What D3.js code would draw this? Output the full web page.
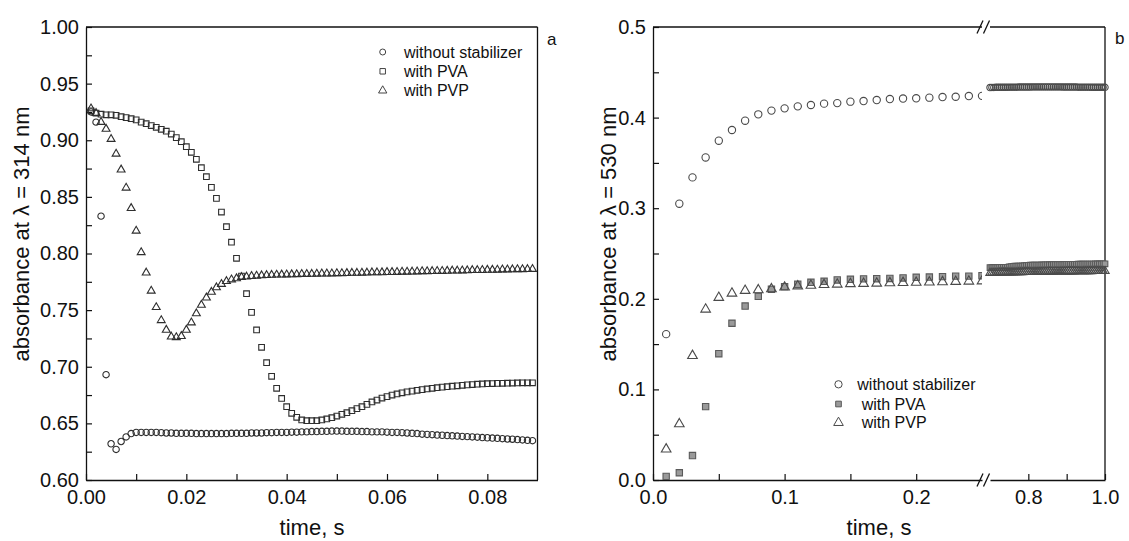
<!DOCTYPE html>
<html><head><meta charset="utf-8">
<script src="https://cdn.jsdelivr.net/npm/d3@7/dist/d3.min.js"></script>
<style>html,body{margin:0;padding:0;background:#fff;}svg{display:block;}</style>
</head><body>
<svg id="chart" width="1129" height="541"></svg>
<script>
// ---------- Panel a (λ = 314 nm) ----------
const timeA = [0.001,0.002,0.003,0.004,0.005,0.006,0.007,0.008,0.009,0.010,
0.011,0.012,0.013,0.014,0.015,0.016,0.017,0.018,0.019,0.020,
0.021,0.022,0.023,0.024,0.025,0.026,0.027,0.028,0.029,0.030,
0.031,0.032,0.033,0.034,0.035,0.036,0.037,0.038,0.039,0.040,
0.041,0.042,0.043,0.044,0.045,0.046,0.047,0.048,0.049,0.050,
0.051,0.052,0.053,0.054,0.055,0.056,0.057,0.058,0.059,0.060,
0.061,0.062,0.063,0.064,0.065,0.066,0.067,0.068,0.069,0.070,
0.071,0.072,0.073,0.074,0.075,0.076,0.077,0.078,0.079,0.080,
0.081,0.082,0.083,0.084,0.085,0.086,0.087,0.088,0.089];
const aWithout = [0.925,0.916,0.833,0.693,0.632,0.627,0.634,0.638,0.641,0.642,
0.642,0.642,0.642,0.642,0.6418,0.6415,0.6415,0.6412,0.6412,0.6412,
0.6412,0.641,0.641,0.641,0.641,0.641,0.641,0.641,0.6412,0.6412,
0.6412,0.6412,0.6415,0.6415,0.6415,0.6418,0.6418,0.642,0.642,0.642,
0.6422,0.6422,0.6425,0.6425,0.6428,0.6428,0.643,0.643,0.6432,0.6432,
0.6432,0.643,0.643,0.643,0.6428,0.6428,0.6425,0.6425,0.6425,0.6422,
0.642,0.642,0.6418,0.6415,0.6412,0.641,0.6405,0.6402,0.640,0.6397,
0.6395,0.6392,0.639,0.6388,0.6385,0.6383,0.638,0.6378,0.6375,0.6373,
0.637,0.6368,0.6365,0.6362,0.636,0.6357,0.6354,0.635,0.6347];
const aPVA = [0.926,0.924,0.923,0.9225,0.9225,0.922,0.9208,0.920,0.919,0.918,
0.916,0.9146,0.913,0.9114,0.9097,0.908,0.9055,0.9023,0.8987,0.8943,
0.8894,0.8832,0.8758,0.8678,0.8584,0.8487,0.8366,0.8237,0.810,0.7958,
0.780,0.7645,0.748,0.7325,0.7172,0.7036,0.6916,0.681,0.672,0.6647,
0.6589,0.6554,0.653,0.6524,0.6524,0.6524,0.653,0.6539,0.655,0.6565,
0.658,0.6594,0.6612,0.663,0.6647,0.6668,0.6689,0.6706,0.6724,0.6736,
0.675,0.676,0.677,0.6778,0.6785,0.6792,0.6798,0.6804,0.681,0.6815,
0.682,0.6824,0.6828,0.6832,0.6836,0.684,0.6843,0.6846,0.6848,0.685,
0.6852,0.6853,0.6854,0.6855,0.6856,0.6857,0.6858,0.6858,0.6858];
const aPVP = [0.928,0.924,0.916,0.910,0.901,0.888,0.874,0.858,0.840,0.820,
0.801,0.783,0.767,0.7525,0.741,0.7325,0.7265,0.726,0.727,0.7325,
0.739,0.747,0.7545,0.761,0.766,0.770,0.773,0.7755,0.777,0.778,
0.779,0.7795,0.780,0.7803,0.7806,0.7808,0.781,0.7812,0.7813,0.7814,
0.7815,0.7816,0.7818,0.7818,0.7819,0.782,0.7822,0.7822,0.7823,0.7825,
0.7825,0.7826,0.7828,0.7828,0.7829,0.783,0.7832,0.7832,0.7833,0.7835,
0.7835,0.7836,0.7838,0.7838,0.7839,0.784,0.7842,0.7842,0.7843,0.7845,
0.7845,0.7846,0.7848,0.7848,0.7849,0.785,0.7852,0.7852,0.7853,0.7855,
0.7855,0.7856,0.7858,0.7858,0.7859,0.786,0.786,0.7861,0.7862];
const aXMajor = [0, 0.02, 0.04, 0.06, 0.08];
const aXMinor = [0.01, 0.03, 0.05, 0.07];
const aYMajor = [0.60,0.65,0.70,0.75,0.80,0.85,0.90,0.95,1.00];
const aYMinor = [0.625,0.675,0.725,0.775,0.825,0.875,0.925,0.975];

// ---------- Panel b (λ = 530 nm) ----------
const timeB1 = [0.01,0.02,0.03,0.04,0.05,0.06,0.07,0.08,0.09,0.10,
0.11,0.12,0.13,0.14,0.15,0.16,0.17,0.18,0.19,0.20,0.21,0.22,0.23,0.24,0.25];
const bWithout1 = [0.161,0.305,0.334,0.356,0.3745,0.3863,0.3966,0.4036,0.4077,0.4102,
0.4124,0.4139,0.4154,0.416,0.4176,0.4183,0.4194,0.4205,0.421,0.4213,0.422,0.4227,0.423,0.4238,0.424];
const bPVA1 = [0.004,0.008,0.027,0.081,0.1394,0.173,0.192,0.2028,0.2105,0.2134,
0.216,0.2182,0.2193,0.2208,0.2215,0.222,0.2222,0.2225,0.223,0.2237,0.224,0.2245,0.225,0.225,0.2255];
const bPVP1 = [0.034,0.0618,0.1372,0.1884,0.2013,0.206,0.209,0.2097,0.2108,0.2127,
0.214,0.2147,0.2155,0.216,0.2165,0.2168,0.217,0.2175,0.2178,0.218,0.2183,0.2186,0.219,0.2193,0.2195];
const timeB2 = [0.700,0.705,0.710,0.715,0.720,0.725,0.730,0.735,0.740,0.745,
0.750,0.755,0.760,0.765,0.770,0.775,0.780,0.785,0.790,0.795,
0.800,0.805,0.810,0.815,0.820,0.825,0.830,0.835,0.840,0.845,
0.850,0.855,0.860,0.865,0.870,0.875,0.880,0.885,0.890,0.895,
0.900,0.905,0.910,0.915,0.920,0.925,0.930,0.935,0.940,0.945,
0.950,0.955,0.960,0.965,0.970,0.975,0.980,0.985,0.990,0.995,1.000];
const bWithout2 = [0.4332,0.4333,0.4333,0.4334,0.4334,0.4334,0.4335,0.4335,0.4335,0.4335,
0.4336,0.4336,0.4336,0.4336,0.4336,0.4337,0.4337,0.4337,0.4337,0.4337,
0.4337,0.4337,0.4338,0.4338,0.4338,0.4338,0.4338,0.4338,0.4338,0.4338,
0.4338,0.4338,0.4338,0.4338,0.4338,0.4338,0.4338,0.4338,0.4337,0.4337,
0.4337,0.4337,0.4337,0.4337,0.4337,0.4337,0.4336,0.4336,0.4336,0.4336,
0.4336,0.4336,0.4336,0.4335,0.4335,0.4335,0.4335,0.4335,0.4335,0.4334,0.4334];
const bPVA2 = [0.2345,0.2345,0.2346,0.2346,0.2346,0.2347,0.2347,0.2347,0.2348,0.2348,
0.2352,0.2356,0.2358,0.236,0.236,0.2361,0.2361,0.2362,0.2365,0.2368,
0.237,0.2371,0.2371,0.2372,0.2372,0.2373,0.2373,0.2374,0.2374,0.2375,
0.2375,0.2376,0.2376,0.2377,0.2377,0.2378,0.2378,0.2378,0.2379,0.2379,
0.238,0.238,0.238,0.2381,0.2381,0.2381,0.2382,0.2382,0.2382,0.2383,
0.2383,0.2383,0.2384,0.2384,0.2384,0.2385,0.2385,0.2385,0.2385,0.2386,0.2386];
const bPVP2 = [0.2285,0.2286,0.2286,0.2287,0.2287,0.2288,0.2288,0.2289,0.2289,0.229,
0.229,0.2291,0.2291,0.2292,0.2292,0.2293,0.2293,0.2293,0.2294,0.2294,
0.2295,0.2295,0.2295,0.2296,0.2296,0.2297,0.2297,0.2297,0.2298,0.2298,
0.2298,0.2299,0.2299,0.2299,0.23,0.23,0.23,0.2301,0.2301,0.2301,
0.2301,0.2302,0.2302,0.2302,0.2302,0.2303,0.2303,0.2303,0.2303,0.2304,
0.2304,0.2304,0.2304,0.2304,0.2305,0.2305,0.2305,0.2305,0.2305,0.2306,0.2306];
const bX1Major = [0, 0.1, 0.2];
const bX1Minor = [0.05, 0.15];
const bX2Major = [0.8, 1.0];
const bX2Minor = [0.9];
const bYMajor = [0,0.1,0.2,0.3,0.4,0.5];
const bYMinor = [0.05,0.15,0.25,0.35,0.45];

const seriesNames = ["without stabilizer", "with PVA", "with PVP"];

// ---------- drawing ----------
const FONT = "'Liberation Sans', Arial, Helvetica, sans-serif";
const svg = d3.select("#chart");
svg.append("rect").attr("width",1129).attr("height",541).attr("fill","#fff");

const TOP = 27, BOT = 480;

function styleAxis(g, size) {
  g.attr("font-family", FONT).attr("font-size", size);
  g.selectAll(".domain").attr("stroke","#111").attr("stroke-width",1.3);
  g.selectAll(".tick line").attr("stroke","#111").attr("stroke-width",1.2);
  g.selectAll(".tick text").attr("fill","#111");
}
function bottomAxis(scale, major, minor, fmt) {
  const g = svg.append("g").attr("transform", `translate(0,${BOT})`)
    .call(d3.axisBottom(scale).tickValues(major).tickFormat(fmt).tickSizeInner(-6).tickSizeOuter(0).tickPadding(10));
  styleAxis(g, 20);
  const m = svg.append("g").attr("transform", `translate(0,${BOT})`)
    .call(d3.axisBottom(scale).tickValues(minor).tickFormat("").tickSizeInner(-6).tickSizeOuter(0));
  m.select(".domain").remove();
  styleAxis(m, 20);
}
function leftAxis(x0, scale, major, minor, fmt) {
  const g = svg.append("g").attr("transform", `translate(${x0},0)`)
    .call(d3.axisLeft(scale).tickValues(major).tickFormat(fmt).tickSizeInner(-6).tickSizeOuter(0).tickPadding(7));
  styleAxis(g, 20);
  const m = svg.append("g").attr("transform", `translate(${x0},0)`)
    .call(d3.axisLeft(scale).tickValues(minor).tickFormat("").tickSizeInner(-6).tickSizeOuter(0));
  m.select(".domain").remove();
  styleAxis(m, 20);
}
function hline(x1, x2, y) {
  svg.append("line").attr("x1",x1).attr("x2",x2).attr("y1",y).attr("y2",y)
    .attr("stroke","#111").attr("stroke-width",1.3);
}
function vline(x, y1, y2) {
  svg.append("line").attr("x1",x).attr("x2",x).attr("y1",y1).attr("y2",y2)
    .attr("stroke","#111").attr("stroke-width",1.3);
}
function markers(g, xs, ys, xScale, yScale, type, size, fill, stroke) {
  const sym = d3.symbol().type(type).size(size);
  g.selectAll(null).data(xs.map((t,i)=>[t, ys[i]])).join("path")
    .attr("d", sym)
    .attr("transform", d => `translate(${xScale(d[0])},${yScale(d[1])})`)
    .attr("fill", fill).attr("stroke", stroke).attr("stroke-width", 1.1);
}

// ----- Panel a -----
const xA = d3.scaleLinear().domain([0, 0.09]).range([86, 537.5]);
const yA = d3.scaleLinear().domain([0.6, 1.0]).range([BOT, TOP]);
bottomAxis(xA, aXMajor, aXMinor, d3.format(".2f"));
leftAxis(86, yA, aYMajor, aYMinor, d3.format(".2f"));
hline(86, 537.5, TOP);
vline(537.5, TOP, BOT);

const MK_A = "#2e2e2e";
const gA = svg.append("g");
markers(gA, timeA, aWithout, xA, yA, d3.symbolCircle, 32, "none", MK_A);
markers(gA, timeA, aPVA, xA, yA, d3.symbolSquare, 32, "none", MK_A);
markers(gA, timeA, aPVP, xA, yA, d3.symbolTriangle, 27, "none", MK_A);

// legend a
const legA = svg.append("g").attr("font-family", FONT).attr("font-size", 16).attr("fill","#111");
const legAsym = [d3.symbolCircle, d3.symbolSquare, d3.symbolTriangle];
const legAsz = [28, 30, 30];
seriesNames.forEach((n, i) => {
  const y = 52 + i * 19.3;
  legA.append("path").attr("d", d3.symbol().type(legAsym[i]).size(legAsz[i]))
    .attr("transform", `translate(382.7,${y})`).attr("fill","none").attr("stroke","#444");
  legA.append("text").attr("x", 404).attr("y", y).attr("dy","0.35em").text(n);
});

svg.append("text").attr("x", 547).attr("y", 39).attr("dy","0.35em")
  .attr("font-family", FONT).attr("font-size", 17).attr("fill","#111").text("a");

// axis titles a
svg.append("text").attr("x", 312).attr("y", 535).attr("text-anchor","middle")
  .attr("font-family", FONT).attr("font-size", 22).attr("fill","#111").text("time, s");
svg.append("text").attr("transform","translate(29,234) rotate(-90)").attr("text-anchor","middle")
  .attr("font-family", FONT).attr("font-size", 22).attr("fill","#111").text("absorbance at λ = 314 nm");

// ----- Panel b -----
const xB1 = d3.scaleLinear().domain([0, 0.25]).range([653, 982]);
const xB2 = d3.scaleLinear().domain([0.7, 1.0]).range([990, 1105]);
const yB = d3.scaleLinear().domain([0, 0.5]).range([BOT, TOP]);
bottomAxis(xB1, bX1Major, bX1Minor, d3.format(".1f"));
bottomAxis(xB2, bX2Major, bX2Minor, d3.format(".1f"));
leftAxis(653, yB, bYMajor, bYMinor, d3.format(".1f"));
hline(653, 982, TOP);
hline(990, 1105, TOP);
vline(1105, TOP, BOT);

// axis breaks
[TOP, BOT].forEach(y => {
  [980, 986.5].forEach(cx => {
    svg.append("line").attr("x1", cx - 3).attr("y1", y + 6.5).attr("x2", cx + 3).attr("y2", y - 6.5)
      .attr("stroke","#111").attr("stroke-width",1.3);
  });
});

svg.append("defs").append("clipPath").attr("id","clipB1")
  .append("rect").attr("x", 640).attr("y", 0).attr("width", 982 - 640).attr("height", 541);
const gB1 = svg.append("g").attr("clip-path","url(#clipB1)");
markers(gB1, timeB1, bWithout1, xB1, yB, d3.symbolCircle, 42, "none", "#4a4a4a");
markers(gB1, timeB1, bPVA1, xB1, yB, d3.symbolSquare, 40, "#9a9a9a", "#5a5a5a");
markers(gB1, timeB1, bPVP1, xB1, yB, d3.symbolTriangle, 40, "none", "#4a4a4a");
const gB2 = svg.append("g");
markers(gB2, timeB2, bWithout2, xB2, yB, d3.symbolCircle, 32, "none", "#4a4a4a");
markers(gB2, timeB2, bPVA2, xB2, yB, d3.symbolSquare, 32, "#9a9a9a", "#5a5a5a");
markers(gB2, timeB2, bPVP2, xB2, yB, d3.symbolTriangle, 30, "none", "#4a4a4a");

// legend b
const legB = svg.append("g").attr("font-family", FONT).attr("font-size", 16).attr("fill","#111");
const legBy = [384.3, 404, 422.7];
const legBx = [857.3, 861.7, 861.7];
const legBsz = [42, 32, 40];
const legBfill = ["none", "#9a9a9a", "none"];
seriesNames.forEach((n, i) => {
  legB.append("path").attr("d", d3.symbol().type(legAsym[i]).size(legBsz[i]))
    .attr("transform", `translate(838.5,${legBy[i]})`).attr("fill", legBfill[i])
    .attr("stroke", i === 1 ? "#5a5a5a" : "#4a4a4a");
  legB.append("text").attr("x", legBx[i]).attr("y", legBy[i]).attr("dy","0.35em").text(n);
});

svg.append("text").attr("x", 1115).attr("y", 38).attr("dy","0.35em")
  .attr("font-family", FONT).attr("font-size", 17).attr("fill","#111").text("b");

svg.append("text").attr("x", 879).attr("y", 535).attr("text-anchor","middle")
  .attr("font-family", FONT).attr("font-size", 22).attr("fill","#111").text("time, s");
svg.append("text").attr("transform","translate(616,234) rotate(-90)").attr("text-anchor","middle")
  .attr("font-family", FONT).attr("font-size", 22).attr("fill","#111").text("absorbance at λ = 530 nm");
</script>
</body></html>
